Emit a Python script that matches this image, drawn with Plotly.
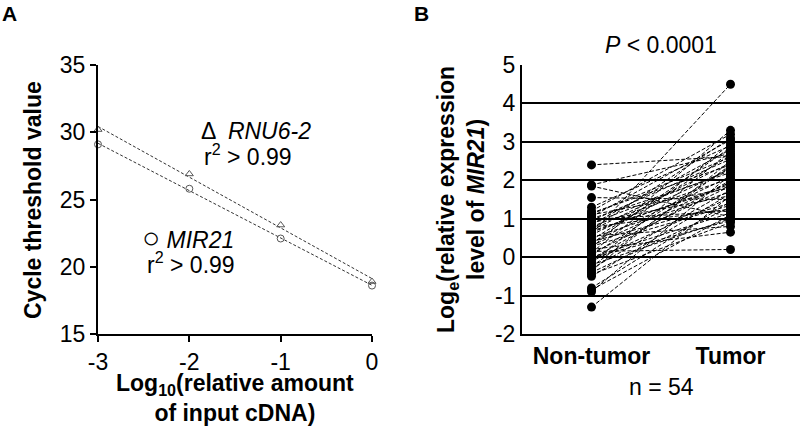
import plotly.graph_objects as go

# ---- Panel A data ----
log_cdna = [-3, -2, -1, 0]
ct_rnu6 = [30.2, 26.9, 23.1, 18.9]
ct_mir21 = [29.1, 25.8, 22.1, 18.6]
a_yticks = [15, 20, 25, 30, 35]
a_xticks = [-3, -2, -1, 0]

# ---- Panel B data (paired, n = 54) ----
non_tumor = [2.4, 1.88, 1.85, 1.55, 1.3, 1.2, 1.15, 1.1, 1.05, 1.0,
             0.95, 0.9, 0.85, 0.8, 0.78, 0.7, 0.65, 0.6, 0.58, 0.5,
             0.45, 0.4, 0.38, 0.3, 0.25, 0.2, 0.15, 0.1, 0.05, 0.0,
             -0.05, -0.1, -0.15, -0.2, -0.3, -0.35, -0.4, -0.45, -0.5, -0.8,
             -0.85, -0.9, -1.3, 1.12, 0.98, 0.88, 0.72, 0.55, 0.35, 0.28,
             0.12, -0.02, -0.25, 0.68]
tumor = [2.62, 2.7, 1.05, 1.5, 2.9, 3.2, 2.4, 1.8, 3.05, 2.2,
         2.55, 1.6, 2.8, 2.05, 1.25, 2.45, 1.9, 4.5, 2.3, 1.7,
         2.65, 1.4, 2.1, 1.95, 3.3, 0.65, 0.2, 1.85, 2.35, 1.15,
         2.0, 1.55, 2.75, 1.0, 1.75, 2.5, 1.3, 0.9, 1.65, 1.45,
         1.1, 2.15, 1.6, 2.6, 1.2, 2.25, 3.1, 0.8, 2.85, 1.35,
         2.95, 0.95, 2.4, 1.85]
b_groups = ["Non-tumor", "Tumor"]
b_yticks = [-2, -1, 0, 1, 2, 3, 4, 5]

FONT = "Liberation Sans, Arial, sans-serif"

def fit_line(xs, ys):
    n = len(xs)
    mx = sum(xs) / n
    my = sum(ys) / n
    sxy = sum((x - mx) * (y - my) for x, y in zip(xs, ys))
    sxx = sum((x - mx) ** 2 for x in xs)
    b = sxy / sxx
    a = my - b * mx
    return [a + b * xs[0], a + b * xs[-1]]

fig = go.Figure()

# Panel A regression lines
for ys in (ct_rnu6, ct_mir21):
    fig.add_trace(go.Scatter(
        x=[log_cdna[0], log_cdna[-1]], y=fit_line(log_cdna, ys),
        mode="lines", line=dict(color="#333333", width=1, dash="3px,2px"),
        xaxis="x", yaxis="y", showlegend=False, hoverinfo="skip"))
fig.add_trace(go.Scatter(
    x=log_cdna, y=ct_rnu6, mode="markers",
    marker=dict(symbol="triangle-up-open", size=7, color="#555555", line=dict(width=1)),
    xaxis="x", yaxis="y", showlegend=False, cliponaxis=False))
fig.add_trace(go.Scatter(
    x=log_cdna, y=ct_mir21, mode="markers",
    marker=dict(symbol="circle-open", size=7, color="#555555", line=dict(width=1)),
    xaxis="x", yaxis="y", showlegend=False, cliponaxis=False))

# Panel B paired lines
bx, by = [], []
for nt, t in zip(non_tumor, tumor):
    bx += [0, 1, None]
    by += [nt, t, None]
fig.add_trace(go.Scatter(
    x=bx, y=by, mode="lines+markers",
    line=dict(color="black", width=1, dash="4px,2px"),
    marker=dict(symbol="circle", size=9, color="black"),
    xaxis="x2", yaxis="y2", showlegend=False, cliponaxis=False, connectgaps=False))

W, H = 800.0, 427.0
def px(x): return x / W
def py(y): return 1 - y / H

ydom = [py(334), py(65)]
FS = 23
tickfont = dict(family=FONT, size=FS, color="black")

fig.update_layout(
    template="none",
    width=800, height=427,
    margin=dict(l=0, r=0, t=0, b=0),
    paper_bgcolor="white", plot_bgcolor="white",
    font=dict(family=FONT, color="black"),
    xaxis=dict(domain=[px(98), px(372)], range=[-3, 0], anchor="y", automargin=False,
               tickvals=a_xticks, ticktext=[str(v) for v in a_xticks],
               ticks="outside", ticklen=6, tickwidth=2, tickcolor="black",
               showline=True, linewidth=2, linecolor="black",
               showgrid=False, zeroline=False, tickfont=tickfont),
    yaxis=dict(domain=ydom, range=[15, 35], anchor="x", automargin=False,
               tickvals=a_yticks, ticktext=[str(v) for v in a_yticks],
               ticks="outside", ticklen=6, tickwidth=2, tickcolor="black",
               showline=True, linewidth=2, linecolor="black",
               showgrid=False, zeroline=False, tickfont=tickfont),
    xaxis2=dict(domain=[px(522), 1.0], range=[-0.5, 1.5], anchor="y2", automargin=False,
                tickvals=[0, 1], ticktext=["<b>%s</b>" % g for g in b_groups],
                ticks="", showline=True, linewidth=2, linecolor="black",
                showgrid=False, zeroline=False, tickfont=tickfont),
    yaxis2=dict(domain=ydom, range=[-2, 5], anchor="x2", automargin=False,
                tickvals=b_yticks, ticktext=[str(v) for v in b_yticks],
                ticks="", showline=True, linewidth=2, linecolor="black",
                showgrid=True, gridcolor="black", gridwidth=2,
                zeroline=False, tickfont=tickfont),
)

ann = []
def A(text, x, y, size=FS, xanchor="center", yanchor="middle", **kw):
    d = dict(text=text, x=x, y=y, xref="paper", yref="paper", showarrow=False,
             xanchor=xanchor, yanchor=yanchor,
             font=dict(family=FONT, size=size, color="black"))
    d.update(kw)
    ann.append(d)

A("<b>A</b>", px(0), py(0), size=21, xanchor="left", yanchor="top")
A("<b>B</b>", px(412), py(0), size=21, xanchor="left", yanchor="top")
A("<b>Cycle threshold value</b>", px(33), py(200), textangle=-90)
A("<b>Log<sub>10</sub>(relative amount<br>of input cDNA)</b>", px(235), py(398))
A("Δ  <i>RNU6-2</i>", px(199), py(131), xanchor="left")
A("r<sup>2</sup> > 0.99", px(202), py(155), xanchor="left")
A("<span style='font-size:30px'>○</span> <i>MIR21</i>", px(140), py(238), xanchor="left")
A("r<sup>2</sup> > 0.99", px(145), py(263), xanchor="left")
A("<b>Log<sub>e</sub>(relative expression<br>level of <i>MIR21</i>)</b>", px(461), py(200), textangle=-90)
A("<i>P</i> < 0.0001", px(661), py(45))
A("n = 54", px(661), py(387))

fig.update_layout(annotations=ann)
fig.write_html("out.html", config={"displayModeBar": False},
               post_script="document.body.style.margin='0px';")
